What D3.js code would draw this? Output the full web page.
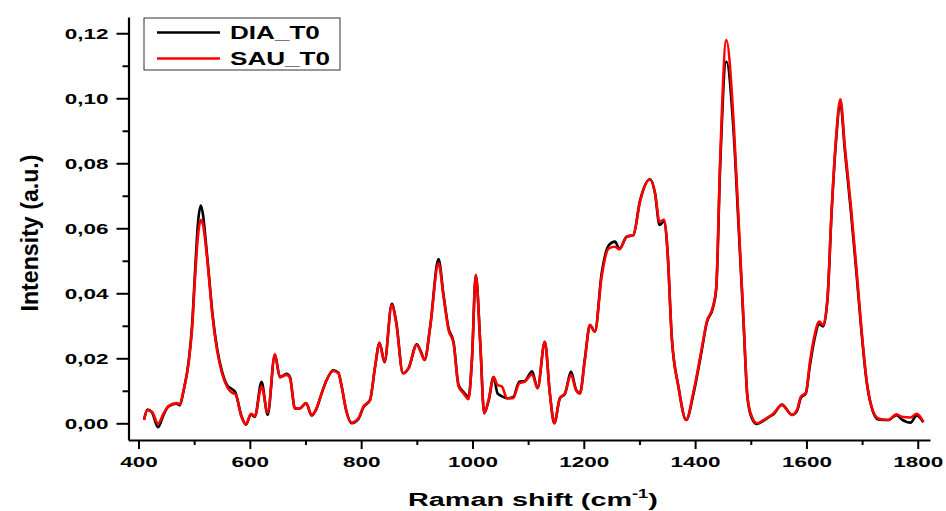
<!DOCTYPE html>
<html>
<head>
<meta charset="utf-8">
<script src="https://cdn.jsdelivr.net/npm/d3@7"></script>
<style>
  body { margin: 0; background: #fff; }
  text { font-family: "Liberation Sans", Arial, sans-serif; font-weight: bold; }
</style>
</head>
<body>
<script>
// Raman spectra
var shift = [410, 416, 424, 435, 445, 454, 469, 474, 481, 490, 496, 502, 507, 512, 516, 520, 526, 533, 541, 550,
  559, 568, 574, 585, 593, 602, 609, 621, 632, 645, 654, 666, 672, 681, 690, 701, 711, 720, 729, 738,
  750, 759, 765, 773, 783, 795, 804, 816, 825, 833, 842, 855, 863, 875, 885, 900, 907, 914, 924, 939,
  948, 957, 966, 975, 984, 993, 999, 1006, 1014, 1021, 1029, 1038, 1045, 1053, 1062, 1073, 1084, 1094, 1107, 1117,
  1130, 1139, 1147, 1157, 1166, 1177, 1186, 1193, 1202, 1211, 1220, 1232, 1245, 1256, 1264, 1277, 1289, 1301, 1319, 1328,
  1336, 1344, 1350, 1358, 1370, 1384, 1397, 1412, 1421, 1432, 1438, 1445, 1456, 1469, 1478, 1487, 1494, 1502, 1511, 1523,
  1533, 1541, 1556, 1574, 1583, 1590, 1599, 1606, 1614, 1623, 1630, 1638, 1645, 1653, 1661, 1669, 1680, 1690, 1699, 1708,
  1717, 1729, 1747, 1762, 1771, 1787, 1798, 1810];

var dia = [0.0012, 0.0042, 0.0034, -0.0012, 0.0026, 0.0052, 0.0060, 0.0055, 0.0100, 0.0190, 0.0295, 0.0480, 0.0620, 0.0670, 0.0640, 0.0575, 0.0465, 0.0335, 0.0232, 0.0160,
  0.0118, 0.0105, 0.0095, 0.0022, -0.0004, 0.0027, 0.0020, 0.0128, 0.0026, 0.0210, 0.0142, 0.0152, 0.0143, 0.0046, 0.0046, 0.0062, 0.0024, 0.0046, 0.0092, 0.0133,
  0.0163, 0.0156, 0.0113, 0.0040, 0.0000, 0.0013, 0.0049, 0.0072, 0.0174, 0.0248, 0.0188, 0.0368, 0.0312, 0.0154, 0.0169, 0.0243, 0.0222, 0.0195, 0.0297, 0.0505,
  0.0395, 0.0292, 0.0250, 0.0118, 0.0096, 0.0082, 0.0195, 0.0456, 0.0246, 0.0031, 0.0070, 0.0142, 0.0092, 0.0083, 0.0077, 0.0080, 0.0128, 0.0130, 0.0160, 0.0108,
  0.0251, 0.0092, 0.0000, 0.0077, 0.0090, 0.0159, 0.0104, 0.0092, 0.0200, 0.0302, 0.0282, 0.0460, 0.0548, 0.0559, 0.0537, 0.0574, 0.0579, 0.0685, 0.0751, 0.0708,
  0.0610, 0.0620, 0.0540, 0.0266, 0.0113, 0.0010, 0.0090, 0.0225, 0.0310, 0.0355, 0.0415, 0.0790, 0.1113, 0.0900, 0.0610, 0.0310, 0.0080, 0.0015, -0.0002, 0.0008,
  0.0020, 0.0028, 0.0058, 0.0026, 0.0038, 0.0078, 0.0092, 0.0175, 0.0255, 0.0305, 0.0298, 0.0385, 0.0640, 0.0865, 0.0985, 0.0840, 0.0650, 0.0460, 0.0280, 0.0130,
  0.0050, 0.0012, 0.0010, 0.0025, 0.0012, 0.0002, 0.0024, 0.0003];

var sau = [0.0010, 0.0040, 0.0036, -0.0001, 0.0030, 0.0053, 0.0062, 0.0058, 0.0102, 0.0185, 0.0287, 0.0460, 0.0580, 0.0625, 0.0610, 0.0560, 0.0460, 0.0328, 0.0226, 0.0154,
  0.0113, 0.0094, 0.0090, 0.0020, -0.0003, 0.0029, 0.0022, 0.0113, 0.0033, 0.0213, 0.0142, 0.0149, 0.0140, 0.0046, 0.0046, 0.0062, 0.0026, 0.0046, 0.0092, 0.0133,
  0.0161, 0.0154, 0.0113, 0.0041, 0.0002, 0.0015, 0.0051, 0.0072, 0.0174, 0.0246, 0.0190, 0.0364, 0.0308, 0.0154, 0.0169, 0.0241, 0.0220, 0.0195, 0.0297, 0.0492,
  0.0390, 0.0287, 0.0246, 0.0113, 0.0092, 0.0074, 0.0195, 0.0456, 0.0246, 0.0031, 0.0072, 0.0142, 0.0118, 0.0113, 0.0077, 0.0077, 0.0123, 0.0128, 0.0150, 0.0108,
  0.0251, 0.0092, 0.0000, 0.0077, 0.0092, 0.0149, 0.0102, 0.0092, 0.0195, 0.0302, 0.0282, 0.0451, 0.0538, 0.0543, 0.0535, 0.0574, 0.0579, 0.0682, 0.0751, 0.0708,
  0.0620, 0.0626, 0.0543, 0.0266, 0.0113, 0.0010, 0.0097, 0.0231, 0.0313, 0.0359, 0.0420, 0.0810, 0.1179, 0.0933, 0.0626, 0.0318, 0.0082, 0.0020, 0.0000, 0.0010,
  0.0020, 0.0031, 0.0056, 0.0026, 0.0041, 0.0082, 0.0094, 0.0185, 0.0266, 0.0313, 0.0302, 0.0390, 0.0646, 0.0872, 0.0997, 0.0851, 0.0666, 0.0472, 0.0287, 0.0133,
  0.0051, 0.0015, 0.0010, 0.0028, 0.0020, 0.0018, 0.0029, 0.0005];

var xTicks = [400, 600, 800, 1000, 1200, 1400, 1600, 1800];
var xMinor = [500, 700, 900, 1100, 1300, 1500, 1700];
var yTicks = [0, 0.02, 0.04, 0.06, 0.08, 0.10, 0.12];
var yMinor = [0.01, 0.03, 0.05, 0.07, 0.09, 0.11];
var seriesNames = ["DIA_T0", "SAU_T0"];
var seriesColors = ["#000000", "#ff0000"];

var W = 946, H = 511;
var stretch = 1.45; // the exported figure has wide glyphs

var svg = d3.select("body").append("svg")
    .attr("width", W)
    .attr("height", H);

var x = d3.scaleLinear().domain([382, 1822]).range([128.5, 930]);
var y = d3.scaleLinear().domain([-0.00514, 0.125]).range([440, 17]);

var comma = d3.formatLocale({decimal: ",", thousands: ".", grouping: [3], currency: ["", ""]});
var fmt = comma.format(".2f");

// minor ticks first
svg.append("g")
    .attr("transform", "translate(0,440)")
    .call(d3.axisBottom(x).tickValues(xMinor).tickSize(5).tickFormat(""))
    .call(g => g.select(".domain").remove())
    .selectAll("line").attr("stroke-width", 2);

svg.append("g")
    .attr("transform", "translate(128.5,0)")
    .call(d3.axisLeft(y).tickValues(yMinor).tickSize(6).tickFormat(""))
    .call(g => g.select(".domain").remove())
    .selectAll("line").attr("stroke-width", 2);

// major axes
var gx = svg.append("g")
    .attr("transform", "translate(0,440)")
    .call(d3.axisBottom(x).tickValues(xTicks).tickSize(9).tickSizeOuter(0).tickFormat(d3.format("d")));
gx.select(".domain").attr("stroke-width", 2.2);
gx.selectAll("line").attr("stroke-width", 2);
gx.selectAll("text")
    .attr("y", 16)
    .attr("font-size", 15.5)
    .attr("fill", "#000")
    .attr("transform", "scale(" + stretch + ",1)");

var gy = svg.append("g")
    .attr("transform", "translate(128.5,0)")
    .call(d3.axisLeft(y).tickValues(yTicks).tickSize(12).tickSizeOuter(0).tickFormat(fmt));
gy.select(".domain").attr("stroke-width", 2.2);
gy.selectAll("line").attr("stroke-width", 2);
gy.selectAll("text")
    .attr("x", -20 / stretch)
    .attr("font-size", 15.5)
    .attr("fill", "#000")
    .attr("transform", "scale(" + stretch + ",1)");

// spectra
var line = d3.line()
    .x((d, i) => x(shift[i]))
    .y(d => y(d))
    .curve(d3.curveMonotoneX);

[dia, sau].forEach(function(s, k) {
    svg.append("path")
        .datum(s)
        .attr("d", line)
        .attr("fill", "none")
        .attr("stroke", seriesColors[k])
        .attr("stroke-width", 2.6)
        .attr("stroke-linejoin", "round");
});

// legend
var leg = svg.append("g");
leg.append("rect")
    .attr("x", 144).attr("y", 18)
    .attr("width", 196).attr("height", 52)
    .attr("fill", "#fff")
    .attr("stroke", "#333")
    .attr("stroke-width", 1);

seriesNames.forEach(function(name, k) {
    var ly = 32.5 + k * 26;
    leg.append("line")
        .attr("x1", 157).attr("x2", 220)
        .attr("y1", ly).attr("y2", ly)
        .attr("stroke", seriesColors[k])
        .attr("stroke-width", 2.5);
    leg.append("text")
        .attr("x", 230 / stretch)
        .attr("y", ly + 6.5)
        .attr("font-size", 18)
        .attr("transform", "scale(" + stretch + ",1)")
        .text(name);
});

// axis titles
var xt = svg.append("text")
    .attr("x", 0).attr("y", 0)
    .attr("font-size", 19);
xt.append("tspan").text("Raman shift (cm");
xt.append("tspan").attr("font-size", 12).attr("dy", -8).text("-1");
xt.append("tspan").attr("dy", 8).text(")");
var xw = xt.node().getComputedTextLength();
var xs = 250 / xw;
xt.attr("transform", "translate(408,506) scale(" + xs + ",1)");

var yt = svg.append("text")
    .attr("font-size", 24)
    .attr("text-anchor", "middle")
    .text("Intensity (a.u.)");
var yw = yt.node().getComputedTextLength();
yt.attr("transform", "translate(38,233) rotate(-90) scale(" + (157 / yw) + ",1)");
</script>
</body>
</html>
